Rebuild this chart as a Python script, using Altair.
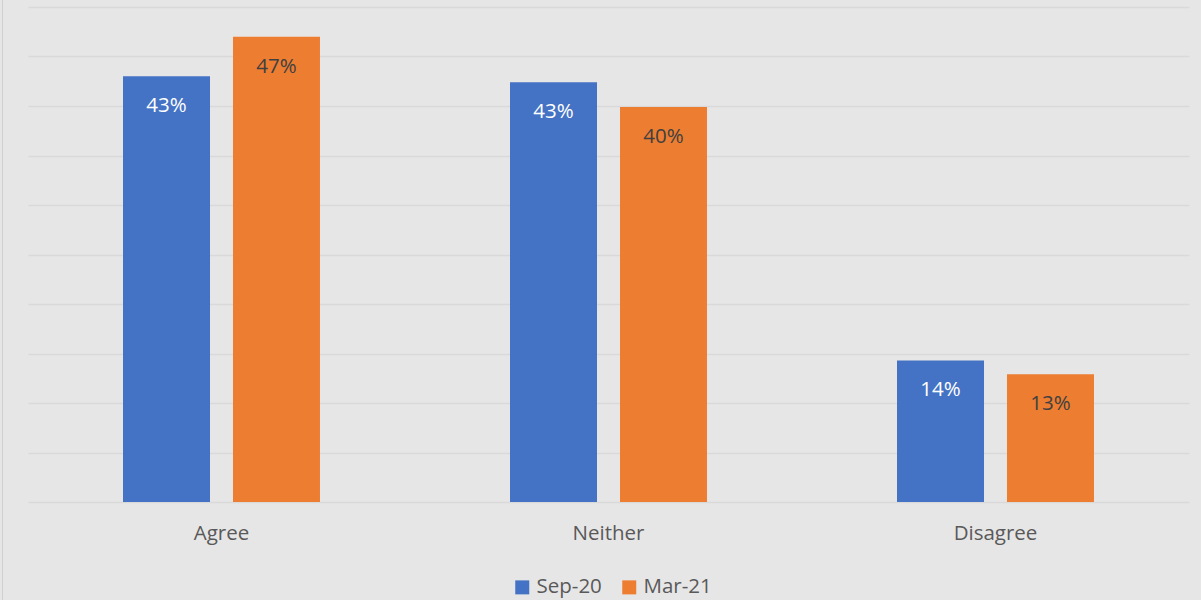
import altair as alt
import pandas as pd

categories = ["Agree", "Neither", "Disagree"]
series = ["Sep-20", "Mar-21"]
sep20 = [43.0, 42.4, 14.3]
mar21 = [47.0, 39.9, 12.9]
sep20_labels = ["43%", "43%", "14%"]
mar21_labels = ["47%", "40%", "13%"]

rows = []
for i, c in enumerate(categories):
    rows.append({"category": c, "series": "Sep-20", "value": sep20[i], "label": sep20_labels[i]})
    rows.append({"category": c, "series": "Mar-21", "value": mar21[i], "label": mar21_labels[i]})
df = pd.DataFrame(rows)

FONT = "Open Sans"

x = alt.X("category:N", sort=categories, title=None,
          scale=alt.Scale(paddingInner=0.491, paddingOuter=0.2455),
          axis=alt.Axis(labelAngle=0, ticks=False, domain=False, labelPadding=21,
                        labelFontSize=20.5, labelColor="#595959", labelFont=FONT))
xo = alt.XOffset("series:N", sort=series, scale=alt.Scale(paddingInner=0.209, paddingOuter=0))
y = alt.Y("value:Q", title=None,
          scale=alt.Scale(domain=[0, 50], nice=False),
          axis=alt.Axis(values=list(range(0, 55, 5)), labels=False, ticks=False, domain=False,
                        grid=True, gridColor="#D9D9D9", gridWidth=1.5))

bars = alt.Chart(df).mark_bar().encode(
    x=x, xOffset=xo, y=y,
    color=alt.Color("series:N", sort=series,
                    scale=alt.Scale(domain=series, range=["#4472C4", "#ED7D31"]),
                    legend=alt.Legend(title=None, orient="none", direction="horizontal",
                                      legendX=484, legendY=570, symbolType="square",
                                      symbolSize=196, symbolStrokeWidth=0,
                                      labelFontSize=20.5, labelColor="#595959", labelFont=FONT,
                                      columnPadding=17, symbolOffset=0, labelOffset=4)),
)

text = alt.Chart(df).mark_text(baseline="middle", dy=30, fontSize=20.5, font=FONT).encode(
    x=x, xOffset=xo, y=y,
    text="label:N",
    color=alt.condition(alt.datum.series == "Sep-20", alt.value("white"), alt.value("#404040")),
)

border = alt.Chart(pd.DataFrame({"v": [0]})).mark_rule(color="#D0D0D0", strokeWidth=1).encode(
    x=alt.value(-25.5), y=alt.value(-7), y2=alt.value(593)
)

chart = alt.layer(bars, text, border).properties(
    width=1161, height=495,
    background="#E7E6E6",
    padding={"left": 28, "top": 7, "right": 12, "bottom": 98},
    autosize=alt.AutoSizeParams(type="none"),
).configure_view(stroke=None)

chart.save("out.html", embed_options={"renderer": "svg", "actions": False})
